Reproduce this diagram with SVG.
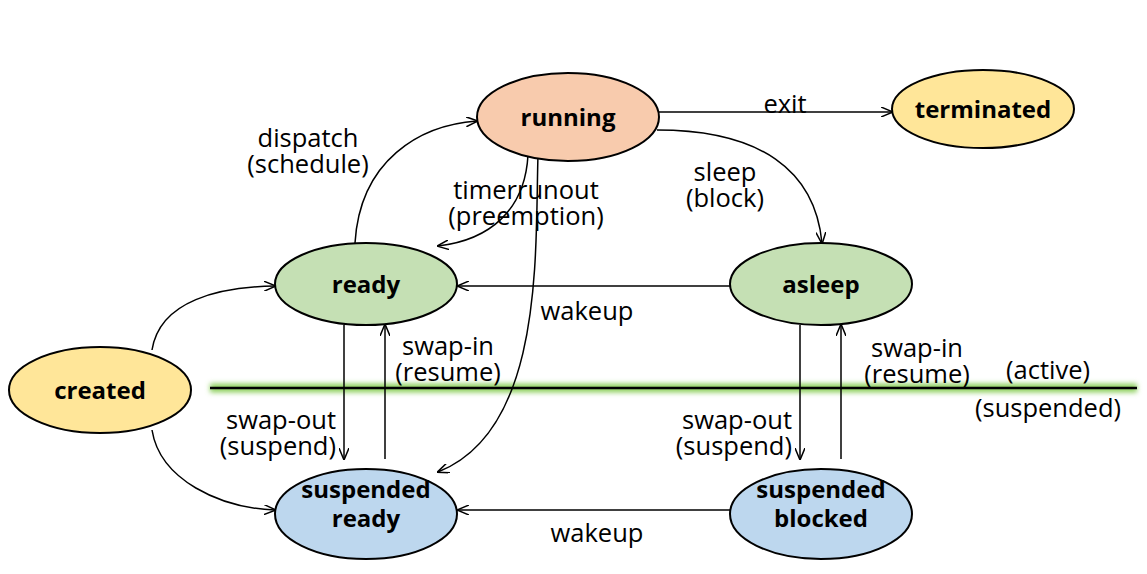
<svg xmlns="http://www.w3.org/2000/svg" width="1147" height="574" viewBox="0 0 1147 574">
<style>
.n{stroke:#000;stroke-width:2}
.nt{font-family:"Open Sans","Liberation Sans",sans-serif;font-weight:bold;font-size:24px;text-anchor:middle;fill:#000}
.lb{font-family:"Open Sans","Liberation Sans",sans-serif;font-size:25.5px;text-anchor:middle;fill:#000}
.r{text-anchor:end}
.e{fill:none;stroke:#000;stroke-width:1.5;marker-end:url(#ah)}
</style>
<defs>
<marker id="ah" viewBox="0 0 12 10" refX="11" refY="5" markerWidth="12" markerHeight="10" markerUnits="userSpaceOnUse" orient="auto">
<path d="M0,0 L12,5 L0,10" fill="none" stroke="#000" stroke-width="1.5"/>
</marker>
<filter id="glow" filterUnits="userSpaceOnUse" x="190" y="370" width="970" height="36">
<feGaussianBlur stdDeviation="2.5"/>
</filter>
</defs>
<rect width="1147" height="574" fill="#fff"/>
<g id="divider">
<line x1="210" y1="388" x2="1137" y2="388" stroke="#8fd060" stroke-width="9" filter="url(#glow)"/>
<line x1="210" y1="388" x2="1137" y2="388" stroke="#000" stroke-width="2.5"/>
<text class="lb" x="1048" y="379">(active)</text>
<text class="lb" x="1048" y="417">(suspended)</text>
</g>
<g id="connectors">
<path class="e" d="M659,112 L892,112"/>
<text class="lb" x="785" y="113">exit</text>
<path class="e" d="M657,130 C760,130 815,170 822,243"/>
<text class="lb" x="725" y="181">sleep<tspan x="725" dy="26">(block)</tspan></text>
<path class="e" d="M355,243 C360,160 420,125 477,121"/>
<text class="lb" x="308" y="147">dispatch<tspan x="308" dy="26">(schedule)</tspan></text>
<path class="e" d="M528,155 C525,210 490,240 438,246"/>
<text class="lb" x="526" y="199">timerrunout<tspan x="526" dy="26">(preemption)</tspan></text>
<path class="e" d="M538,155 C535,250 545,430 438,472"/>
<path class="e" d="M730,286 L458,286"/>
<text class="lb" x="587" y="320">wakeup</text>
<path class="e" d="M344,325 L344,459"/>
<path class="e" d="M385,459 L385,325"/>
<text class="lb r" x="336" y="429">swap-out<tspan x="336" dy="26">(suspend)</tspan></text>
<text class="lb" x="448" y="355">swap-in<tspan x="448" dy="26">(resume)</tspan></text>
<path class="e" d="M800,325 L800,459"/>
<path class="e" d="M841,459 L841,325"/>
<text class="lb r" x="792" y="429">swap-out<tspan x="792" dy="26">(suspend)</tspan></text>
<text class="lb" x="917" y="357">swap-in<tspan x="917" dy="26">(resume)</tspan></text>
<path class="e" d="M730,510 L458,510"/>
<text class="lb" x="597" y="542">wakeup</text>
<path class="e" d="M152,350 C160,300 220,287 275,286"/>
<path class="e" d="M152,430 C160,480 220,508 275,510"/>
</g>
<g id="running"><ellipse class="n" cx="568" cy="117" rx="91" ry="44" fill="#F8CBAD"/><text class="nt" x="568" y="126">running</text></g>
<g id="terminated"><ellipse class="n" cx="983" cy="109" rx="91" ry="39" fill="#FFE699"/><text class="nt" x="983" y="118">terminated</text></g>
<g id="ready"><ellipse class="n" cx="366" cy="284" rx="91" ry="41" fill="#C5E0B4"/><text class="nt" x="366" y="293">ready</text></g>
<g id="asleep"><ellipse class="n" cx="821" cy="284" rx="91" ry="41" fill="#C5E0B4"/><text class="nt" x="821" y="293">asleep</text></g>
<g id="created"><ellipse class="n" cx="100" cy="390" rx="91" ry="43" fill="#FFE699"/><text class="nt" x="100" y="399">created</text></g>
<g id="suspended-ready"><ellipse class="n" cx="366" cy="514" rx="91" ry="45" fill="#BDD7EE"/><text class="nt" x="366" y="498">suspended<tspan x="366" dy="29">ready</tspan></text></g>
<g id="suspended-blocked"><ellipse class="n" cx="821" cy="514" rx="91" ry="45" fill="#BDD7EE"/><text class="nt" x="821" y="498">suspended<tspan x="821" dy="29">blocked</tspan></text></g>
</svg>
